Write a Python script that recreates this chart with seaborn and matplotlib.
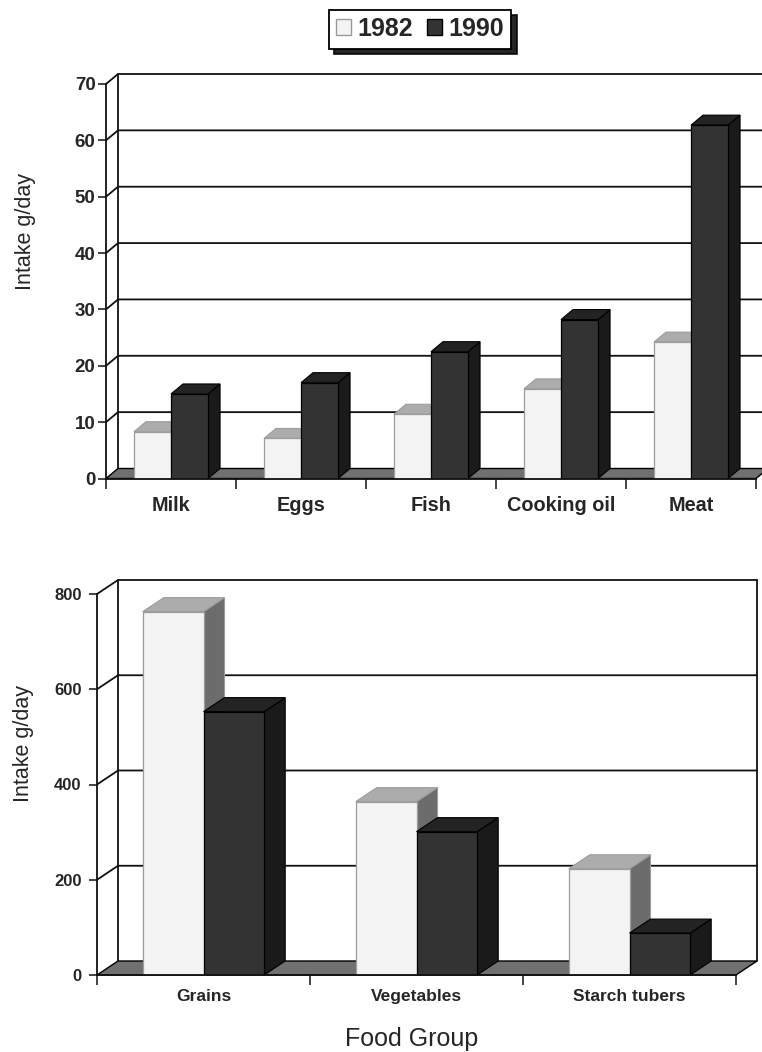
import matplotlib
matplotlib.use("Agg")
import matplotlib.pyplot as plt
from matplotlib.patches import Polygon, Patch
from matplotlib.lines import Line2D
import pandas as pd
import seaborn as sns

# ---- data -------------------------------------------------------------
years = ["1982", "1990"]

small_foods = ["Milk", "Eggs", "Fish", "Cooking oil", "Meat"]
small_1982 = [8.3, 7.1, 11.4, 15.9, 24.2]
small_1990 = [15.0, 17.0, 22.5, 28.2, 62.7]
small_ticks = [0, 10, 20, 30, 40, 50, 60, 70]

large_foods = ["Grains", "Vegetables", "Starch tubers"]
large_1982 = [763, 364, 223]
large_1990 = [553, 301, 88]
large_ticks = [0, 200, 400, 600, 800]

y_title = "Intake g/day"
x_title = "Food Group"

# ---- style ------------------------------------------------------------
front_colors = {"1982": "#f3f3f3", "1990": "#333333"}
top_colors = {"1982": "#acacac", "1990": "#232323"}
side_colors = {"1982": "#6c6c6c", "1990": "#1a1a1a"}
edge_colors = {"1982": "#9c9c9c", "1990": "#000000"}

W, H = 762, 1052
sns.set_style("white")
plt.rcParams["font.family"] = ["Liberation Sans", "DejaVu Sans"]

fig = plt.figure(figsize=(W / 100, H / 100), dpi=100)


def axes_px(left, right, y0, ytop):
    """Axes placed by pixel edges: y0 = pixel row of value 0, ytop = row of max."""
    return fig.add_axes([left / W, 1 - y0 / H, (right - left) / W, (y0 - ytop) / H])


def panel(ax, foods, v82, v90, ticks, dpx, dpy, ytick_size, ytick_pad,
          cat_size, cat_pad):
    n = len(foods)
    df = pd.DataFrame({
        "food": foods * 2,
        "year": ["1982"] * n + ["1990"] * n,
        "intake": list(v82) + list(v90),
    })
    sns.barplot(data=df, x="food", y="intake", hue="year", hue_order=years,
                palette=front_colors, saturation=1, width=0.57,
                errorbar=None, legend=False, linewidth=0.9, ax=ax)
    ymax = ticks[-1]
    x0, x1 = -0.5, n - 0.5
    ax.set_xlim(x0, x1)
    ax.set_ylim(0, ymax)

    # depth offset of the 3-D box, pixels -> data units
    bb = ax.get_position()
    ddx = dpx * n / (bb.width * W)
    ddy = dpy * ymax / (bb.height * H)

    # floor
    ax.add_patch(Polygon([(x0, 0), (x1, 0), (x1 + ddx, ddy), (x0 + ddx, ddy)],
                         closed=True, fc="#707070", ec="black", lw=1.0,
                         clip_on=False, zorder=1))
    # back wall grid with the matching side-wall diagonals
    for v in ticks[1:]:
        ax.add_line(Line2D([x0, x0 + ddx, x1 + ddx], [v, v + ddy, v + ddy],
                           color="#111111", lw=1.3, clip_on=False, zorder=0.5))
    for xe in (x0 + ddx, x1 + ddx):
        ax.add_line(Line2D([xe, xe], [ddy, ymax + ddy], color="#111111",
                           lw=1.3, clip_on=False, zorder=0.5))

    # 3-D faces of each bar
    for level, cont in zip(years, ax.containers):
        zf = 2 if level == "1982" else 3
        for bar in cont:
            bar.set_zorder(zf)
            bar.set_edgecolor(edge_colors[level])
            bx, bw, bh = bar.get_x(), bar.get_width(), bar.get_height()
            top = Polygon([(bx, bh), (bx + bw, bh), (bx + bw + ddx, bh + ddy),
                           (bx + ddx, bh + ddy)], closed=True,
                          fc=top_colors[level], ec=edge_colors[level], lw=0.8,
                          clip_on=False, zorder=zf - 0.1)
            side = Polygon([(bx + bw, 0), (bx + bw + ddx, ddy),
                            (bx + bw + ddx, bh + ddy), (bx + bw, bh)],
                           closed=True, fc=side_colors[level],
                           ec=edge_colors[level], lw=0.8, clip_on=False,
                           zorder=zf - 0.1)
            ax.add_patch(side)
            ax.add_patch(top)

    # axes lines
    for s in ("top", "right"):
        ax.spines[s].set_visible(False)
    for s in ("left", "bottom"):
        ax.spines[s].set_color("#111111")
        ax.spines[s].set_linewidth(1.3)
        ax.spines[s].set_zorder(4)

    ax.set_yticks(ticks)
    ax.set_yticklabels([str(t) for t in ticks], fontweight="bold")
    ax.tick_params(axis="y", length=6, width=1.1, direction="out",
                   color="#111111", labelsize=ytick_size, pad=ytick_pad, left=True)

    ax.set_xticks(range(n))
    ax.set_xticklabels(foods, fontweight="bold")
    ax.set_xticks([x0 + i for i in range(n + 1)], minor=True)
    ax.tick_params(axis="x", which="major", length=0, labelsize=cat_size,
                   pad=cat_pad, bottom=True)
    ax.tick_params(axis="x", which="minor", length=7, width=1.1,
                   direction="out", color="#111111", bottom=True)
    ax.set_xlabel("")
    ax.set_ylabel("")
    ax.patch.set_alpha(0)


ax1 = axes_px(106, 756, 478.5, 84)
panel(ax1, small_foods, small_1982, small_1990, small_ticks,
      dpx=12, dpy=10, ytick_size=13.5, ytick_pad=1.5, cat_size=14.3, cat_pad=12.5)

ax2 = axes_px(97, 736, 975, 594)
panel(ax2, large_foods, large_1982, large_1990, large_ticks,
      dpx=21, dpy=14, ytick_size=12, ytick_pad=5, cat_size=12.5, cat_pad=10)

# axis titles
fig.text(26 / W, 1 - 232 / H, y_title, rotation=90, ha="center", va="center",
         fontsize=15.5)
fig.text(24 / W, 1 - 743 / H, y_title, rotation=90, ha="center", va="center",
         fontsize=15.5)
fig.text(412 / W, 1 - 1039 / H, x_title, ha="center", va="center", fontsize=18)

# legend
handles = [Patch(fc=front_colors["1982"], ec="#999999", lw=1, label="1982"),
           Patch(fc=front_colors["1990"], ec="black", lw=1, label="1990")]
leg = fig.legend(handles=handles, loc="center",
                 bbox_to_anchor=(420 / W, 1 - 29 / H), ncol=2, frameon=True,
                 fancybox=False,
                 shadow={"ox": 4, "oy": -4, "facecolor": "black",
                         "edgecolor": "black", "alpha": 0.85},
                 edgecolor="black", prop={"weight": "bold", "size": 18},
                 handlelength=0.6, handleheight=0.6, handletextpad=0.25,
                 columnspacing=0.55, borderpad=0.3, borderaxespad=0)
leg.get_frame().set_linewidth(1.3)
leg.get_frame().set_alpha(1)

fig.savefig("out.png", dpi=100)
